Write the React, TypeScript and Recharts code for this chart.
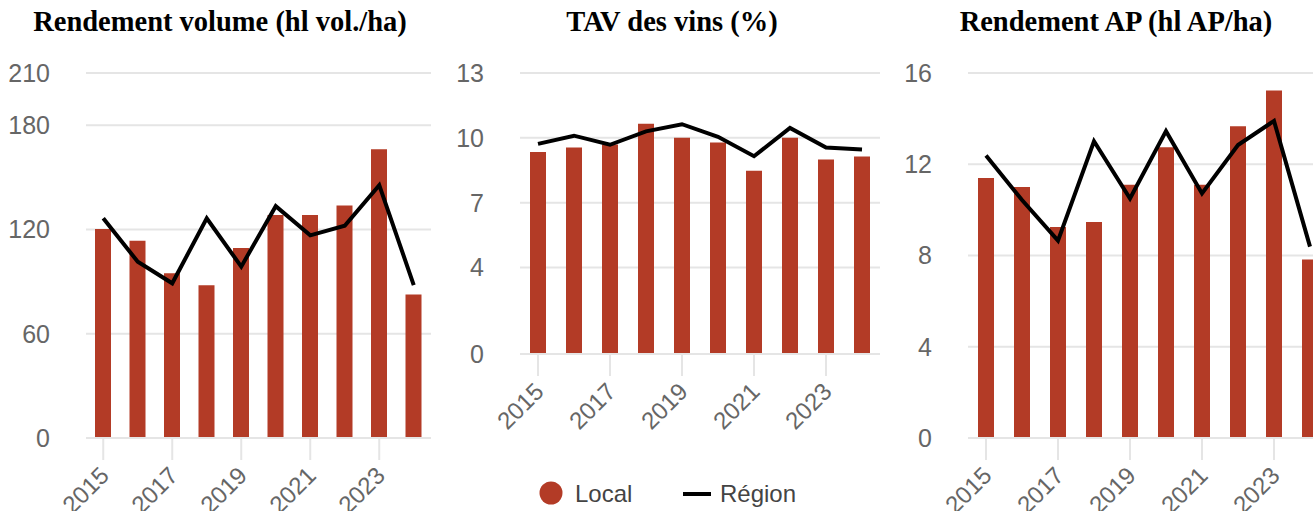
import React from 'react';
import { ComposedChart, Bar, Line, XAxis, YAxis, CartesianGrid } from 'recharts';

const years = ['2015', '2016', '2017', '2018', '2019', '2020', '2021', '2022', '2023', '2024'];

const volLocal = [120.3, 113.5, 94.8, 87.9, 109.3, 128.3, 128.3, 133.7, 166.1, 82.5];
const volRegion = [126.4, 101.4, 89, 126.4, 98.6, 133.4, 116.6, 122.1, 145.5, 88];
const volTicks = [0, 60, 120, 180, 210];

const tavLocal = [9.34, 9.55, 9.69, 10.65, 10.0, 9.78, 8.48, 10.0, 9.0, 9.14];
const tavRegion = [9.72, 10.1, 9.68, 10.3, 10.63, 10.05, 9.15, 10.46, 9.55, 9.46];
const tavTicks = [0, 4, 7, 10, 13];

const apLocal = [11.4, 11.0, 9.25, 9.47, 11.1, 12.75, 11.1, 13.67, 15.23, 7.83];
const apRegion = [12.38, 10.43, 8.65, 13.01, 10.5, 13.45, 10.72, 12.84, 13.9, 8.39];
const apTicks = [0, 4, 8, 12, 16];

const titles = ['Rendement volume (hl vol./ha)', 'TAV des vins (%)', 'Rendement AP (hl AP/ha)'];
const legendLabels = ['Local', 'Région'];

const BAR_COLOR = '#b33b26';
const GRID_COLOR = '#e5e5e5';
const TEXT_GRAY = '#666666';
const SANS = '"Liberation Sans", Arial, sans-serif';

const build = (local: number[], region: number[]) =>
  years.map((y, i) => ({ year: y, local: local[i], region: region[i] }));

const XTick = (props: any) => {
  const { x, y, payload } = props;
  const ax = x + 1;
  const ay = y + 11;
  return (
    <text
      x={ax}
      y={ay}
      dy="0.36em"
      textAnchor="end"
      transform={`rotate(-45, ${ax}, ${ay})`}
      fill={TEXT_GRAY}
      fontSize={24}
      fontFamily={SANS}
    >
      {payload.value}
    </text>
  );
};

type PanelProps = {
  data: any[];
  left: number;
  width: number;
  height: number;
  yWidth: number;
  marginRight: number;
  xHeight: number;
  max: number;
  ticks: number[];
};

const Panel = ({ data, left, width, height, yWidth, marginRight, xHeight, max, ticks }: PanelProps) => (
  <div style={{ position: 'absolute', left, top: 0 }}>
    <ComposedChart
      width={width}
      height={height}
      data={data}
      margin={{ top: 73, right: marginRight, left: 0, bottom: 0 }}
    >
      <CartesianGrid vertical={false} stroke={GRID_COLOR} strokeWidth={2} />
      <XAxis
        dataKey="year"
        type="category"
        interval={1}
        height={xHeight}
        tickSize={22}
        tickMargin={0}
        axisLine={{ stroke: GRID_COLOR, strokeWidth: 2 }}
        tickLine={{ stroke: GRID_COLOR, strokeWidth: 2 }}
        tick={<XTick />}
      />
      <YAxis
        width={yWidth}
        domain={[0, max]}
        ticks={ticks}
        interval={0}
        axisLine={false}
        tickLine={false}
        tickSize={0}
        tickMargin={36}
        tick={{ fill: TEXT_GRAY, fontSize: 25, fontFamily: SANS }}
      />
      <Bar dataKey="local" fill={BAR_COLOR} barSize={16} isAnimationActive={false} />
      <Line
        dataKey="region"
        type="linear"
        stroke="#000000"
        strokeWidth={4}
        dot={false}
        activeDot={false}
        isAnimationActive={false}
      />
    </ComposedChart>
  </div>
);

const Title = ({ text, center }: { text: string; center: number }) => (
  <div
    style={{
      position: 'absolute',
      left: center - 250,
      top: 8,
      width: 500,
      textAlign: 'center',
      fontFamily: '"Liberation Serif", "Times New Roman", serif',
      fontWeight: 'bold',
      fontSize: 28.5,
      lineHeight: '28px',
      color: '#000',
      whiteSpace: 'nowrap',
    }}
  >
    {text}
  </div>
);

export default function App() {
  return (
    <div
      style={{
        position: 'absolute',
        left: 0,
        top: 0,
        width: 1313,
        height: 511,
        overflow: 'hidden',
        background: '#ffffff',
      }}
    >
      <Panel
        data={build(volLocal, volRegion)}
        left={0}
        width={440}
        height={511}
        yWidth={86}
        marginRight={9}
        xHeight={73}
        max={210}
        ticks={volTicks}
      />
      <Panel
        data={build(tavLocal, tavRegion)}
        left={450}
        width={440}
        height={440}
        yWidth={70}
        marginRight={10}
        xHeight={86}
        max={13}
        ticks={tavTicks}
      />
      <Panel
        data={build(apLocal, apRegion)}
        left={898}
        width={440}
        height={511}
        yWidth={70}
        marginRight={10}
        xHeight={73}
        max={16}
        ticks={apTicks}
      />
      <Title text={titles[0]} center={220} />
      <Title text={titles[1]} center={672} />
      <Title text={titles[2]} center={1116} />
      <div style={{ position: 'absolute', left: 520, top: 470 }}>
        <svg width={300} height={41}>
          <circle cx={31} cy={23} r={11.5} fill={BAR_COLOR} />
          <text x={55} y={31.5} fontSize={24} fontFamily={SANS} fill="#444444">
            {legendLabels[0]}
          </text>
          <line x1={163} x2={191} y1={24} y2={24} stroke="#000000" strokeWidth={4} />
          <text x={200} y={31.5} fontSize={24} fontFamily={SANS} fill="#444444">
            {legendLabels[1]}
          </text>
        </svg>
      </div>
    </div>
  );
}
